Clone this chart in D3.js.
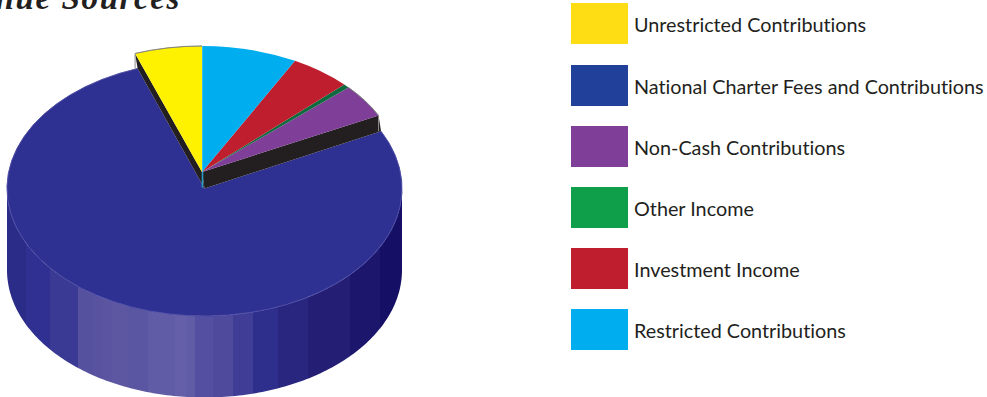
<!DOCTYPE html>
<html>
<head>
<meta charset="utf-8">
<script src="https://cdn.jsdelivr.net/npm/d3@7/dist/d3.min.js"></script>
<style>
  html, body { margin: 0; padding: 0; background: #fff; overflow: hidden; }
  svg { display: block; }
</style>
</head>
<body>
<script>
// Revenue shares, percent, listed counter-clockwise from twelve o'clock
const categories = [
  "Unrestricted Contributions",
  "National Charter Fees and Contributions",
  "Non-Cash Contributions",
  "Other Income",
  "Investment Income",
  "Restricted Contributions"
];
const revenueShares = [5.5, 76.9, 4.3, 0.5, 5.0, 7.8];
const sliceColors = ["#fff200", "#2e3192", "#7f3f98", "#0f6b3f", "#be1e2d", "#00aeef"];
const swatchColors = ["#ffdd15", "#21409a", "#7f3f98", "#0f9f4b", "#be1e2d", "#00aeef"];

// Shading of the cylinder wall, left to right, as vertical bands
const wallBandEnds = [26, 50, 78, 93, 103, 112, 127, 148, 175, 187, 195, 213, 233, 253, 278, 308, 350, 380, 402];
const wallBandColors = ["#2b2b88", "#2f3091", "#3a3993", "#56519f", "#58529f", "#5b55a1", "#5d57a2", "#5b56a2",
  "#615ca6", "#645fa8", "#615ca6", "#544fa0", "#4f4a9b", "#3f3d96", "#2e2e8c", "#29267f", "#241f75", "#1c176c", "#150f65"];

const width = 987, height = 397;
const rx = 197.5, mainRy = 127.5, liftedRy = 126, wallDepth = 81.5;
const mainCentre = { x: 204.5, y: 188.5, ry: mainRy };
const liftedCentre = { x: 202, y: 172, ry: liftedRy };
const toRad = Math.PI / 180;

const svg = d3.select("body").append("svg").attr("width", width).attr("height", height);
const defs = svg.append("defs");

const slices = d3.pie().sort(null).startAngle(0).endAngle(-2 * Math.PI)(revenueShares);
const main = slices[1];
const arc = d3.arc().innerRadius(0).outerRadius(rx);
const rim = d3.arc().innerRadius(rx).outerRadius(rx);

// Position on a tilted rim for a pie angle
const rimX = d3.scaleLinear().domain([-1, 1]).range([-rx, rx]);
const rimPoint = (centre, a) => [centre.x + rimX(Math.sin(a)), centre.y - centre.ry * Math.cos(a)];
const flatten = centre => `translate(${centre.x},${centre.y}) scale(1,${centre.ry / rx})`;

// Wall gradient with hard steps between bands
const grad = defs.append("linearGradient").attr("id", "wall")
  .attr("gradientUnits", "userSpaceOnUse")
  .attr("x1", 0).attr("x2", width).attr("y1", 0).attr("y2", 0);
wallBandEnds.forEach((end, i) => {
  const start = i ? wallBandEnds[i - 1] : 0;
  grad.append("stop").attr("offset", start / width).attr("stop-color", wallBandColors[i]);
  grad.append("stop").attr("offset", end / width).attr("stop-color", wallBandColors[i]);
});

// Outer wall of the large slice: the front half of the rim, pushed down
const wallArea = d3.area()
  .x(a => rimPoint(mainCentre, a)[0])
  .y0(a => rimPoint(mainCentre, a)[1])
  .y1(a => rimPoint(mainCentre, a)[1] + wallDepth);
svg.append("path")
  .datum(d3.range(90, 270.5, 1).map(d => d * toRad))
  .attr("d", wallArea)
  .attr("fill", "url(#wall)");

// Large slice top, with a pale hairline only along its rim
const mainTop = svg.append("g").attr("transform", flatten(mainCentre));
mainTop.append("path").attr("d", arc(main)).attr("fill", sliceColors[1]);
mainTop.append("path").attr("d", rim(main))
  .attr("fill", "none").attr("stroke", "#4b4aa3").attr("stroke-width", 0.8);

// Dark cut faces joining the lifted slices to the large slice
[main.startAngle, main.endAngle].forEach(a => {
  const pts = [
    rimPoint(liftedCentre, a),
    rimPoint(mainCentre, a),
    [mainCentre.x, mainCentre.y],
    [liftedCentre.x, liftedCentre.y]
  ];
  svg.append("path").attr("d", d3.line()(pts) + "Z").attr("fill", "#231f20");
  svg.append("line")
    .attr("x1", pts[0][0]).attr("y1", pts[0][1])
    .attr("x2", pts[0][0]).attr("y2", pts[1][1])
    .attr("stroke", "#8d8b8c").attr("stroke-width", 1);
});

// Lifted slices
const lifted = svg.append("g").attr("transform", flatten(liftedCentre));
slices.forEach((s, i) => {
  if (i === 1) return;
  lifted.append("path").attr("d", arc(s)).attr("fill", sliceColors[i]);
});

// Hairline along the top of the yellow and purple rims
[0, 2].forEach(i => {
  lifted.append("path").attr("d", rim(slices[i]))
    .attr("fill", "none").attr("stroke", "#77777a").attr("stroke-width", 0.8);
});

// Light seam at twelve o'clock running down to the apex
svg.append("line")
  .attr("x1", liftedCentre.x + 0.5).attr("y1", rimPoint(liftedCentre, 0)[1])
  .attr("x2", liftedCentre.x + 0.5).attr("y2", liftedCentre.y)
  .attr("stroke", "#40bdee").attr("stroke-width", 1);
svg.append("line")
  .attr("x1", liftedCentre.x + 0.5).attr("y1", liftedCentre.y)
  .attr("x2", liftedCentre.x + 0.5).attr("y2", mainCentre.y - 1)
  .attr("stroke", "#2a9cc0").attr("stroke-width", 1.6);

// Title, running off the top-left corner
svg.append("text")
  .attr("x", 181).attr("y", 9)
  .attr("text-anchor", "end")
  .attr("font-family", "'Liberation Serif', serif")
  .attr("font-style", "italic").attr("font-weight", "bold")
  .attr("font-size", 33).attr("letter-spacing", 1.6)
  .attr("fill", "#231f20")
  .text("Revenue Sources");

// Legend
const legendY = d3.scalePoint().domain(categories).range([3, 309]);
const legend = svg.selectAll("g.legend").data(categories).join("g")
  .attr("class", "legend")
  .attr("transform", d => `translate(571,${Math.ceil(legendY(d))})`);
legend.append("rect")
  .attr("width", 57).attr("height", 41)
  .attr("fill", (d, i) => swatchColors[i]);
legend.append("text")
  .attr("x", 63).attr("y", 28.5)
  .attr("font-family", "Lato, sans-serif")
  .attr("font-size", 19.8)
  .style("font-variant-ligatures", "none")
  .attr("fill", "#231f20")
  .text(d => d);
</script>
</body>
</html>
